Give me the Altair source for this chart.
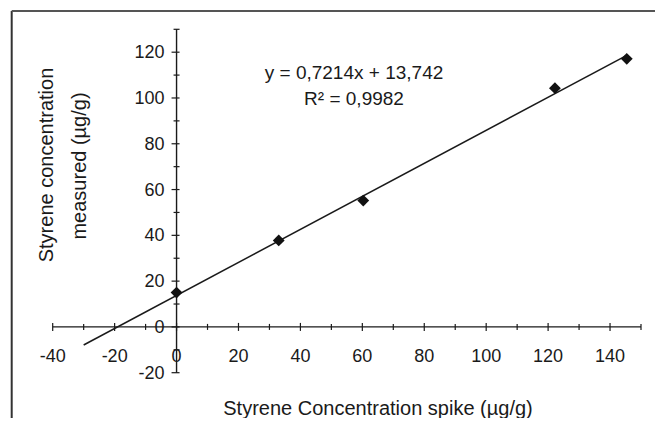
import altair as alt
import pandas as pd

# ---- data ----
spike = [0.0, 33.0, 60.3, 122.2, 145.4]
measured = [15.0, 37.8, 55.2, 104.3, 117.1]
slope = 0.7214
intercept = 13.742
trend_x = [-30.0, 145.4]

x_labels = [-40, -20, 0, 20, 40, 60, 80, 100, 120, 140]
x_minor = [-30, -10, 10, 30, 50, 70, 90, 110, 130, 150]
y_labels = [-20, 0, 20, 40, 60, 80, 100, 120]
y_minor = [-10, 10, 30, 50, 70, 90, 110, 130]

eq_lines = ["y = 0,7214x + 13,742", "R\u00b2 = 0,9982"]
x_title = "Styrene Concentration spike (\u00b5g/g)"
y_title = ["Styrene concentration", "measured (\u00b5g/g)"]

FONT = "Liberation Sans"
INK = "#1a1a1a"

xs = alt.Scale(domain=[-40, 150], range=[44.7, 633], nice=False, zero=False)
ys = alt.Scale(domain=[-20, 130], range=[364.7, 21.3], nice=False, zero=False)


def X(f):
    return alt.X(f, type="quantitative", scale=xs, axis=None)


def Y(f):
    return alt.Y(f, type="quantitative", scale=ys, axis=None)


pts = pd.DataFrame({"x": spike, "y": measured})
trend = pd.DataFrame({"x": trend_x, "y": [slope * v + intercept for v in trend_x]})

# axis lines
xaxis = alt.Chart(pd.DataFrame({"x": [-40], "x2": [150], "y": [0]})).mark_rule(
    color=INK, strokeWidth=1.4).encode(x=X("x"), x2="x2", y=Y("y"))
yaxis = alt.Chart(pd.DataFrame({"y": [-20], "y2": [130], "x": [0]})).mark_rule(
    color=INK, strokeWidth=1.4).encode(y=Y("y"), y2="y2", x=X("x"))

# ticks
xt_major = alt.Chart(pd.DataFrame({"x": x_labels, "y": [0] * len(x_labels)})).mark_rule(
    color=INK, strokeWidth=1.2, yOffset=-4, y2Offset=4).encode(x=X("x"), y=Y("y"), y2="y")
xt_minor = alt.Chart(pd.DataFrame({"x": x_minor, "y": [0] * len(x_minor)})).mark_rule(
    color=INK, strokeWidth=1.2, yOffset=-3, y2Offset=3).encode(x=X("x"), y=Y("y"), y2="y")
yt_major = alt.Chart(pd.DataFrame({"y": y_labels, "x": [0] * len(y_labels)})).mark_rule(
    color=INK, strokeWidth=1.2, xOffset=-5, x2Offset=3).encode(y=Y("y"), x=X("x"), x2="x")
yt_minor = alt.Chart(pd.DataFrame({"y": y_minor, "x": [0] * len(y_minor)})).mark_rule(
    color=INK, strokeWidth=1.2, xOffset=-3, x2Offset=3).encode(y=Y("y"), x=X("x"), x2="x")

# tick labels
xl = alt.Chart(pd.DataFrame({"x": x_labels, "y": [0] * len(x_labels),
                             "t": [str(v) for v in x_labels]})).mark_text(
    font=FONT, fontSize=18, color=INK, align="center", baseline="alphabetic", dy=35
).encode(x=X("x"), y=Y("y"), text="t:N")
yl = alt.Chart(pd.DataFrame({"y": y_labels, "x": [0] * len(y_labels),
                             "t": [str(v) for v in y_labels]})).mark_text(
    font=FONT, fontSize=18, color=INK, align="right", baseline="middle", dx=-12, dy=1
).encode(x=X("x"), y=Y("y"), text="t:N")

# data
trend_line = alt.Chart(trend).mark_line(color=INK, strokeWidth=1.5).encode(x=X("x"), y=Y("y"))
points = alt.Chart(pts).mark_point(shape="diamond", filled=True, size=140, color="#111111",
                                   opacity=1).encode(x=X("x"), y=Y("y"))

# equation
eq = alt.Chart(pd.DataFrame({"t": eq_lines, "px": [346, 346], "py": [71.3, 97]})).mark_text(
    font=FONT, fontSize=19, color=INK, align="center", baseline="alphabetic"
).encode(x=alt.X("px:Q", scale=None), y=alt.Y("py:Q", scale=None), text="t:N")

# titles
xtitle = alt.Chart(pd.DataFrame({"t": [x_title]})).mark_text(
    font=FONT, fontSize=20, color=INK, align="center", baseline="alphabetic"
).encode(x=alt.value(370), y=alt.value(407), text="t:N")
ytitle = alt.Chart(pd.DataFrame({"t": y_title, "px": [39, 72], "py": [157, 158]})).mark_text(
    font=FONT, fontSize=20, color=INK, align="center", baseline="middle", angle=270
).encode(x=alt.X("px:Q", scale=None), y=alt.Y("py:Q", scale=None), text="t:N")

# frame (top and left edges of the outer border)
frame_left = alt.Chart(pd.DataFrame({"a": [0]})).mark_rule(color="#333333", strokeWidth=2).encode(
    x=alt.value(3.7), y=alt.value(3), y2=alt.value(420))
frame_top = alt.Chart(pd.DataFrame({"a": [0]})).mark_rule(color="#555555", strokeWidth=2).encode(
    x=alt.value(3.7), x2=alt.value(660), y=alt.value(3))

chart = alt.layer(
    frame_left, frame_top,
    xaxis, yaxis, xt_major, xt_minor, yt_major, yt_minor,
    trend_line, points, xl, yl, eq, xtitle, ytitle
).properties(
    width=647, height=410,
    autosize=alt.AutoSizeParams(type="none"),
    padding=0,
).configure_view(stroke=None)

chart.save("out.html", embed_options={"renderer": "svg", "actions": False})
